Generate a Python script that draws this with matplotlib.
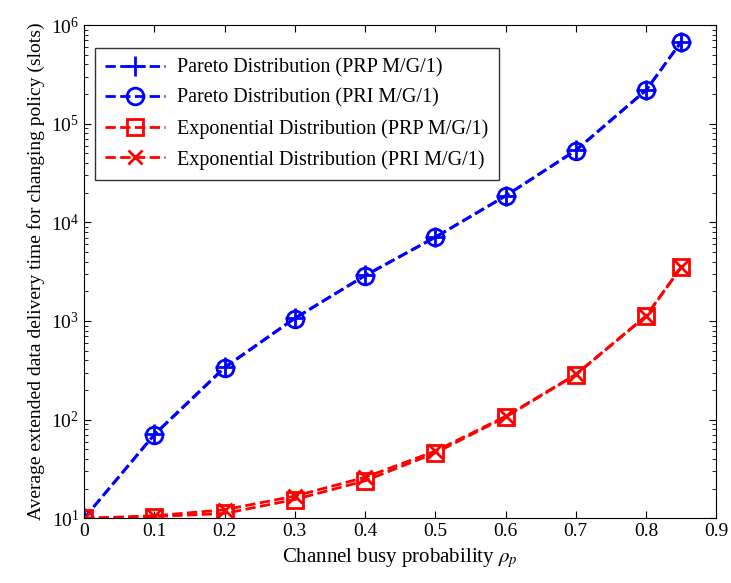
import numpy as np
import matplotlib.pyplot as plt

# data
rho = [0, 0.1, 0.2, 0.3, 0.4, 0.5, 0.6, 0.7, 0.8, 0.85]
pareto_prp = [10, 71, 340, 1070, 2900, 7100, 18600, 54000, 220000, 680000]
pareto_pri = [10, 70, 335, 1060, 2880, 7050, 18500, 53500, 218000, 675000]
exp_prp = [10, 10.4, 11.2, 15.5, 24, 46, 106, 285, 1120, 3500]
exp_pri = [10, 10.6, 12.2, 16.8, 26, 48, 108, 288, 1130, 3520]

plt.rcParams["font.family"] = ["Liberation Serif", "DejaVu Serif"]
plt.rcParams["mathtext.fontset"] = "stix"

fig = plt.figure(figsize=(7.31, 5.83), dpi=100)
ax = fig.add_axes([0.115, 0.111, 0.865, 0.846])

ax.semilogy(rho, pareto_prp, "b--+", lw=2, ms=14, mew=2, label="Pareto Distribution (PRP M/G/1)")
ax.semilogy(rho, pareto_pri, "b--o", lw=2, ms=12, mew=2, mfc="none", label="Pareto Distribution (PRI M/G/1)")
ax.semilogy(rho, exp_prp, "r--s", lw=2, ms=11, mew=2, mfc="none", label="Exponential Distribution (PRP M/G/1)")
ax.semilogy(rho, exp_pri, "r--x", lw=2, ms=10, mew=2, label="Exponential Distribution (PRI M/G/1)")

ax.set_xlim(0, 0.9)
ax.set_ylim(10, 1e6)
ax.set_xticks(np.arange(0, 0.91, 0.1))
ax.set_xticklabels(["0", "0.1", "0.2", "0.3", "0.4", "0.5", "0.6", "0.7", "0.8", "0.9"])
ax.tick_params(which="both", direction="in", top=True, right=True, labelsize=14)
ax.tick_params(which="major", length=5)
ax.tick_params(which="minor", length=3)

ax.set_xlabel(r"Channel busy probability $\rho_p$", fontsize=15)
ax.set_ylabel("Average extended data delivery time for changing policy (slots)", fontsize=14)

leg = ax.legend(loc="upper left", fontsize=14.5, fancybox=False, edgecolor="black",
                bbox_to_anchor=(0.017, 0.953), borderaxespad=0, handlelength=3,
                borderpad=0.5, labelspacing=0.55, handletextpad=0.6)
leg.get_frame().set_linewidth(1)

plt.savefig("out.png", dpi=100)
plt.close()
